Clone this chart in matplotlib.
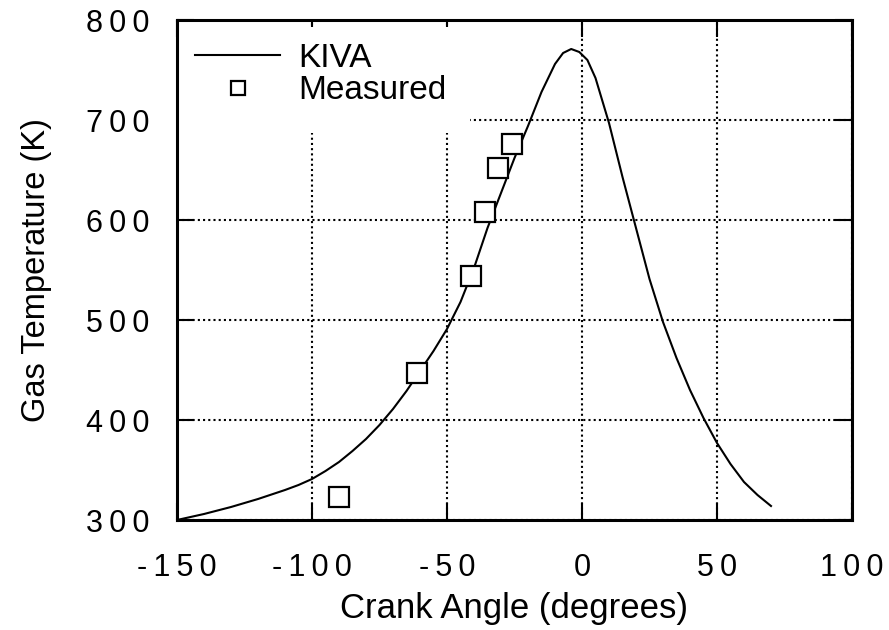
import matplotlib
matplotlib.use("Agg")
import matplotlib.pyplot as plt
from matplotlib.patches import Rectangle

plt.rcParams['font.family'] = ['Liberation Sans', 'DejaVu Sans']

# KIVA computed gas temperature
kiva_angle = [-150, -140, -130, -120, -110, -105, -100, -95, -90, -85, -80, -75, -70,
              -65, -60, -55, -50, -45, -40, -35, -30, -25, -20, -15, -10, -7, -4, -1,
              2, 5, 10, 15, 20, 25, 30, 35, 40, 45, 50, 55, 60, 65, 70]
kiva_temp = [300, 306, 313, 321, 330, 335, 341, 349, 358, 369, 381, 395, 411,
             429, 449, 469, 491, 518, 552, 592, 627, 662, 694, 728, 756, 767, 771, 768,
             760, 742, 697, 643, 592, 541, 498, 462, 430, 402, 377, 356, 338, 325, 314]

# measured points
meas_angle = [-90, -61, -41, -36, -31, -26]
meas_temp = [323, 447, 544, 608, 652, 676]

xticks = [-150, -100, -50, 0, 50, 100]
xtick_labels = ["-150", "-100", "-50", "0", "50", "100"]
yticks = [300, 400, 500, 600, 700, 800]
ytick_labels = ["300", "400", "500", "600", "700", "800"]

fs = 22

fig = plt.figure(figsize=(8.89, 6.3), dpi=100)
ax = fig.add_axes([177/889, 110/630, 675/889, 500/630])

ax.plot(kiva_angle, kiva_temp, color="black", linewidth=1.5, label="KIVA")
ax.plot(meas_angle, meas_temp, linestyle="none", marker="s", markersize=14,
        markerfacecolor="white", markeredgecolor="black", markeredgewidth=1.6,
        label="Measured", zorder=3)

ax.set_xlim(-150, 100)
ax.set_ylim(300, 800)
ax.set_xticks(xticks)
ax.set_xticklabels(["\u2009".join(s) for s in xtick_labels])
ax.set_yticks(yticks)
ax.set_yticklabels(["\u2009".join(s) for s in ytick_labels])

ax.tick_params(direction="in", length=12, width=1.5, top=True, right=True,
               labelsize=fs)
ax.tick_params(axis="x", pad=24)
ax.tick_params(axis="y", pad=20)

ax.grid(True, color="black", linewidth=1.5, linestyle=(0, (1, 1.5)))

for sp in ax.spines.values():
    sp.set_linewidth(2.2)

# white area behind the legend (hides the grid there)
ax.add_patch(Rectangle((0, 0.774), 0.434, 0.212, transform=ax.transAxes,
                       facecolor="white", edgecolor="none", zorder=1.8))

ax.legend(loc="upper left", bbox_to_anchor=(0.0267, 0.955), frameon=False,
          fontsize=24, handlelength=2.55, handletextpad=0.55, labelspacing=0.05,
          borderpad=0, borderaxespad=0, markerscale=0.7)

ax.set_xlabel("Crank Angle (degrees)", fontsize=25, labelpad=6)
ax.set_ylabel("Gas Temperature (K)", fontsize=23.5, labelpad=24)

fig.savefig("out.png", dpi=100)
